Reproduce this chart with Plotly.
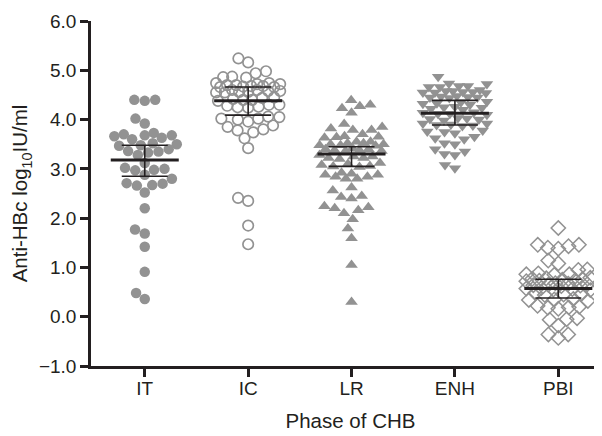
import math
import plotly.graph_objects as go

categories = ["IT", "IC", "LR", "ENH", "PBI"]

it_vals = [4.40, 4.38, 4.40, 4.02, 3.92, 3.73, 3.70, 3.68, 3.66, 3.68, 3.63, 3.60,
           3.50, 3.47, 3.52, 3.48, 3.40, 3.35, 3.33, 3.36, 3.28, 3.12, 3.00, 2.98,
           2.97, 3.02, 2.88, 2.80, 2.70, 2.66, 2.67, 2.71, 2.52, 2.20, 1.77, 1.69,
           1.42, 0.91, 0.48, 0.36]
ic_vals = [5.24, 5.16, 4.94, 4.87, 4.85, 4.86, 4.98, 4.74, 4.72, 4.70, 4.68, 4.66,
           4.66, 4.67, 4.68, 4.70, 4.72, 4.74, 4.60, 4.58, 4.56, 4.55, 4.55, 4.56,
           4.58, 4.60, 4.45, 4.42, 4.40, 4.38, 4.40, 4.44, 4.30, 4.28, 4.25, 4.24,
           4.26, 4.30, 4.06, 4.05, 4.02, 4.00, 4.02, 3.96, 3.88, 3.80, 3.74, 3.78,
           3.85, 3.62, 3.42, 2.41, 2.35, 1.85, 1.47]
lr_vals = [4.39, 4.30, 4.23, 4.27, 4.14, 3.91, 3.85, 3.79, 3.70, 3.79, 3.82, 3.66,
           3.65, 3.64, 3.63, 3.55, 3.52, 3.50, 3.48, 3.47, 3.48, 3.50, 3.52, 3.55,
           3.42, 3.40, 3.38, 3.36, 3.36, 3.38, 3.40, 3.28, 3.25, 3.22, 3.20, 3.22,
           3.25, 3.12, 3.08, 3.05, 3.04, 3.06, 3.10, 2.92, 2.88, 2.84, 2.80, 2.80,
           2.84, 2.88, 2.90, 2.62, 2.45, 2.40, 2.43, 2.56, 2.24, 2.20, 2.10, 2.16,
           2.22, 1.98, 1.79, 1.59, 1.05, 0.30]
enh_vals = [4.87, 4.72, 4.68, 4.66, 4.66, 4.68, 4.73, 4.58, 4.56, 4.55, 4.54, 4.55,
            4.56, 4.58, 4.60, 4.48, 4.46, 4.45, 4.44, 4.45, 4.47, 4.35, 4.33, 4.30,
            4.32, 4.36, 4.25, 4.22, 4.20, 4.24, 4.26, 4.14, 4.12, 4.10, 4.12, 4.15,
            4.02, 4.00, 3.98, 4.01, 4.03, 3.92, 3.90, 3.88, 3.87, 3.89, 3.92, 3.78,
            3.75, 3.72, 3.76, 3.65, 3.60, 3.50, 3.52, 3.62, 3.40, 3.30, 3.28, 3.35,
            3.08, 3.01]
pbi_vals = [1.80, 1.46, 1.43, 1.38, 1.40, 1.46, 1.14, 1.08, 0.96, 0.95, 0.88, 0.86,
            0.85, 0.86, 0.78, 0.76, 0.74, 0.72, 0.73, 0.75, 0.77, 0.79, 0.68, 0.66,
            0.64, 0.62, 0.63, 0.65, 0.67, 0.58, 0.56, 0.54, 0.55, 0.57, 0.48, 0.46,
            0.44, 0.45, 0.36, 0.34, 0.32, 0.35, 0.22, 0.19, 0.16, 0.18, 0.20, -0.03,
            -0.06, -0.05, -0.18, -0.36, -0.43, -0.36]

center_vals = [3.18, 4.38, 3.30, 4.13, 0.57]
upper_vals = [3.48, 4.66, 3.45, 4.39, 0.76]
lower_vals = [2.85, 4.09, 3.05, 3.89, 0.38]

y_ticks = [-1, 0, 1, 2, 3, 4, 5, 6]

groups = [it_vals, ic_vals, lr_vals, enh_vals, pbi_vals]

# ---- layout geometry (pixels) used by the swarm layout ----
W, H = 602, 436
ML, MR, MT, MB = 83, 0, 13, 78
XR = [-0.52, 4.5]
YR = [-1.0, 6.0]
px_per_x = (W - ML - MR) / (XR[1] - XR[0])
px_per_y = (H - MT - MB) / (YR[1] - YR[0])


def swarm(vals, dc=10.5, maxw=32.0):
    """Deterministic beeswarm: returns x offsets (pixels) for each value."""
    order = sorted(range(len(vals)), key=lambda i: vals[i])
    placed = []  # (xpx, ypx)
    offs = [0.0] * len(vals)
    for i in order:
        y = vals[i] * px_per_y
        near = [(px, py) for px, py in placed if abs(py - y) < dc]
        cands = [0.0]
        for px, py in near:
            dx = math.sqrt(max(dc * dc - (py - y) ** 2, 0.0))
            cands += [px + dx, px - dx]

        def ok(x):
            return all((x - px) ** 2 + (y - py) ** 2 >= dc * dc - 1e-6 for px, py in near)

        good = sorted([c for c in cands if ok(c)], key=lambda c: (abs(c), c))
        if good and abs(good[0]) <= maxw:
            x = good[0]
        else:
            best, bestd = 0.0, -1
            k = -maxw
            while k <= maxw + 1e-9:
                d = min([(k - px) ** 2 + (y - py) ** 2 for px, py in near] or [1e9])
                if d > bestd + 1e-9:
                    best, bestd = k, d
                k += 1.0
            x = best
        offs[i] = x
        placed.append((x, y))
    return offs


gray = "#929292"
dark = "#231f20"
styles = [
    dict(symbol="circle", size=10.5, color=gray, line=dict(width=0)),
    dict(symbol="circle-open", size=10.5, color=gray, line=dict(width=1.7, color=gray)),
    dict(symbol="triangle-up", size=11, color=gray, line=dict(width=0)),
    dict(symbol="triangle-down", size=11, color=gray, line=dict(width=0)),
    dict(symbol="diamond-open", size=11, color=gray, line=dict(width=1.5, color=gray)),
]

fig = go.Figure()
for gi, vals in enumerate(groups):
    offs = swarm(vals)
    xs = [gi + o / px_per_x for o in offs]
    fig.add_trace(go.Scatter(x=xs, y=vals, mode="markers", marker=styles[gi],
                             showlegend=False, hoverinfo="y", cliponaxis=False))

# median line and error bars
half_long = 34 / px_per_x
half_cap = 23 / px_per_x
for gi in range(len(categories)):
    c, lo, hi = center_vals[gi], lower_vals[gi], upper_vals[gi]
    fig.add_trace(go.Scatter(x=[gi - half_cap, gi + half_cap, None, gi - half_cap, gi + half_cap, None, gi, gi],
                             y=[hi, hi, None, lo, lo, None, lo, hi], mode="lines",
                             line=dict(color=dark, width=1.6), showlegend=False, hoverinfo="skip"))
    fig.add_trace(go.Scatter(x=[gi - half_long, gi + half_long], y=[c, c], mode="lines",
                             line=dict(color=dark, width=3), showlegend=False, hoverinfo="skip"))

fam = "Liberation Sans, Arial, Helvetica, sans-serif"
tick_font = dict(family=fam, size=19, color=dark)
title_font = dict(family=fam, size=20.5, color=dark)

fig.update_layout(
    width=W, height=H,
    margin=dict(l=ML, r=MR, t=MT, b=MB),
    paper_bgcolor="white", plot_bgcolor="white",
    font=tick_font,
    xaxis=dict(range=XR, tickvals=list(range(len(categories))), ticktext=categories,
               tickfont=tick_font, ticklabelstandoff=-5,
               showgrid=False, zeroline=False, showline=True, linecolor=dark, linewidth=2.5,
               ticks="outside", ticklen=8, tickwidth=2.5, tickcolor=dark,
               title=dict(text="Phase of CHB", standoff=17, font=title_font)),
    yaxis=dict(range=YR, tickvals=y_ticks, tickformat=".1f", tickfont=tick_font,
               showgrid=False, zeroline=False, showline=True, linecolor=dark, linewidth=2.5,
               ticks="outside", ticklen=8, tickwidth=2.5, tickcolor=dark,
               title=dict(text="Anti-HBc log<sub>10</sub>IU/ml", standoff=6, font=title_font)),
)

fig.write_html("out.html")
